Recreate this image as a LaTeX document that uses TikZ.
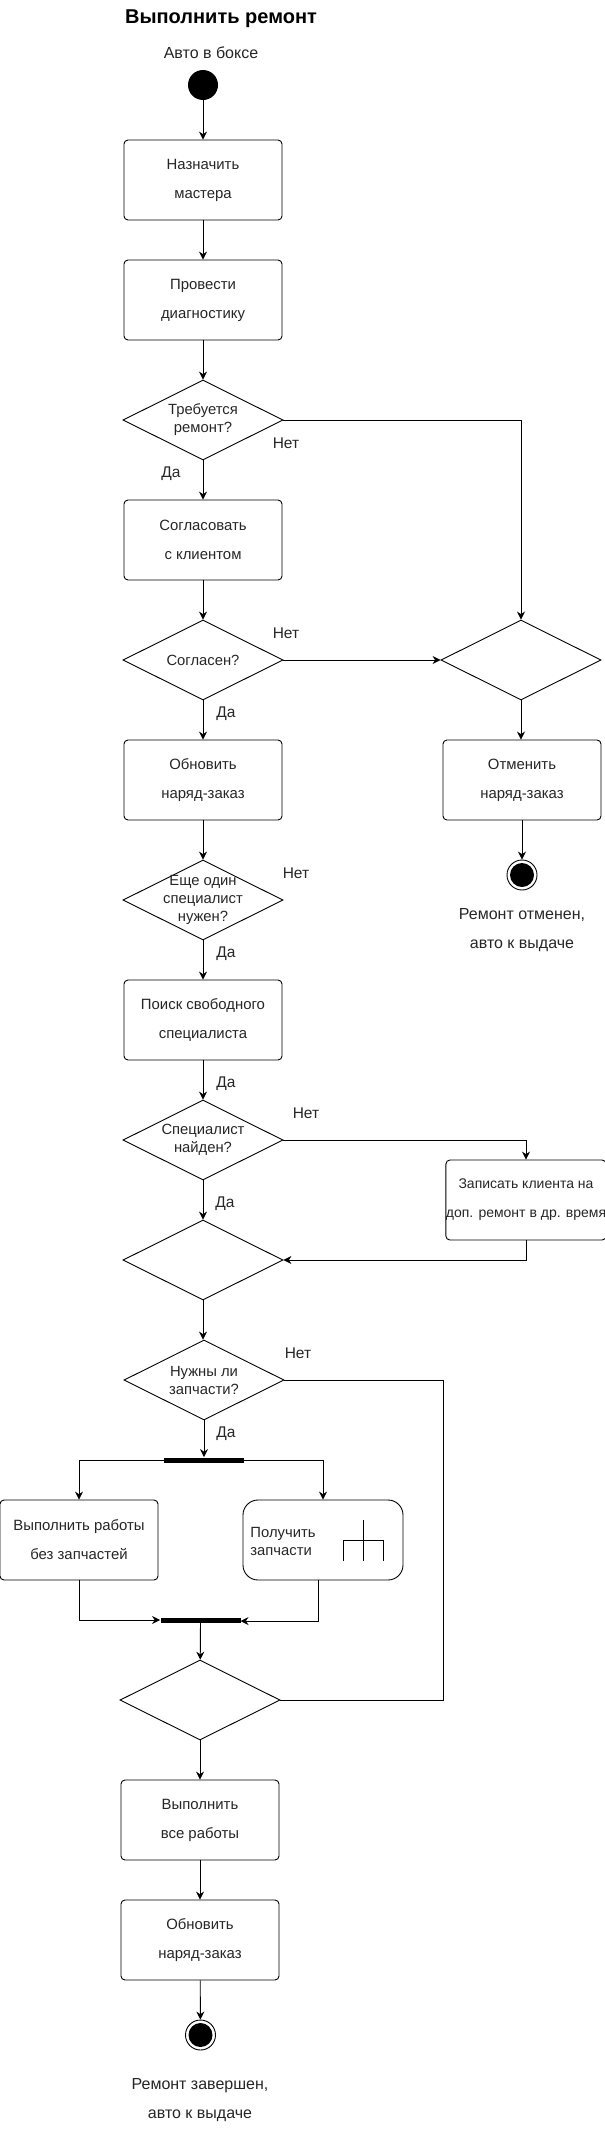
\documentclass[tikz,border=0pt]{standalone}
\usepackage{fontspec}
\setmainfont{Liberation Sans}
\usepackage{xcolor}
\usetikzlibrary{arrows.meta, shapes.geometric}
\definecolor{textColor}{HTML}{262626}
\tikzset{
    activity/.style={draw, rounded corners=4pt, minimum width=158pt, minimum height=80pt, inner sep=0pt, align=center, text=textColor, font=\fontsize{14.9}{29}\selectfont},
    decision/.style={draw, diamond, aspect=2, inner sep=-25pt, minimum width=160pt, minimum height=80pt, align=center, text=textColor, font=\fontsize{14.8}{18}\selectfont},
    caption/.style={inner sep=0pt, align=center, text=textColor, font=\fontsize{16}{29}\selectfont},
    answer/.style={inner sep=0pt, text=textColor, font=\fontsize{15.5}{18}\selectfont},
    bar/.style={fill=black, minimum width=80pt, minimum height=5pt, inner sep=0pt},
    finalring/.style={draw, circle, minimum size=30pt, inner sep=0pt},
    finaldot/.style={fill=black, circle, minimum size=24pt, inner sep=0pt},
    flow/.style={-{Stealth[length=8pt,width=8pt]}},
    every path/.style={line width=0.9pt}
}

\begin{document}
\begin{tikzpicture}[x=1pt, y=-1pt]
    \useasboundingbox (0,0) rectangle (605,2131);

    \node[inner sep=0pt, font=\fontsize{20}{22}\selectfont\bfseries] (title) at (221,18.5) {Выполнить ремонт};
    \node[caption] (startText) at (211,52.5) {Авто в боксе};
    \node[fill=black, circle, minimum size=30pt, inner sep=0pt] (start) at (203,85) {};
    \node[activity] (assign) at (203,180) {Назначить\\мастера};
    \node[activity] (diagnose) at (203,300) {Провести\\диагностику};
    \node[decision] (needRepair) at (203,420) {Требуется\\ремонт?};
    \node[activity] (agree) at (203,540) {Согласовать\\с клиентом};
    \node[decision] (agreed) at (203,660) {Согласен?};
    \node[activity] (updateOrder) at (203,780) {Обновить\\наряд-заказ};
    \node[decision] (needOther) at (203,900) {Еще один\\специалист\\нужен?};
    \node[activity] (search) at (203,1020) {Поиск свободного\\специалиста};
    \node[decision] (found) at (203,1140) {Специалист\\найден?};
    \node[decision] (mergeFound) at (203,1260) {};
    \node[decision] (needParts) at (204,1380) {Нужны ли\\запчасти?};
    \node[bar] (fork) at (204,1460) {};
    \node[activity] (noParts) at (79,1540) {Выполнить работы\\без запчастей};
    \node[activity, rounded corners=15pt, minimum width=160pt] (getParts) at (323,1540) {};
    \node[inner sep=0pt, align=left, text=textColor, font=\fontsize{14.8}{18}\selectfont, anchor=west] (getPartsText) at (250,1541) {Получить\\запчасти};
    \coordinate (iconTop) at (363,1520);
    \coordinate (iconBottom) at (363,1561);
    \coordinate (iconLeft) at (343,1561);
    \coordinate (iconRight) at (383,1561);
    \draw (iconTop) -- (iconBottom);
    \draw (iconLeft) |- (iconRight |- 0,1540) -- (iconRight);
    \node[bar] (join) at (200.5,1620) {};
    \node[decision] (mergeParts) at (200,1700) {};
    \node[activity] (doWork) at (200,1820) {Выполнить\\все работы};
    \node[activity] (closeOrder) at (200,1940) {Обновить\\наряд-заказ};
    \node[finalring] (done) at (200.5,2035) {};
    \node[finaldot] (doneDot) at (done) {};
    \node[caption] (doneText) at (200,2100.5) {Ремонт завершен,\\авто к выдаче};

    \node[decision] (mergeCancel) at (521,660) {};
    \node[activity] (cancel) at (522,780) {Отменить\\наряд-заказ};
    \node[finalring] (cancelled) at (522,875) {};
    \node[finaldot] (cancelledDot) at (cancelled) {};
    \node[caption] (cancelledText) at (522,930) {Ремонт отменен,\\авто к выдаче};
    \node[activity, minimum width=158pt, font=\fontsize{14}{29}\selectfont] (book) at (526,1200) {Записать клиента на\\доп. ремонт в др. время};

    \node[answer] (no1) at (286,443) {Нет};
    \node[answer] (yes1) at (171,474) {Да};
    \node[answer] (no2) at (286,633) {Нет};
    \node[answer] (yes2) at (226,714) {Да};
    \node[answer] (no3) at (296,873) {Нет};
    \node[answer] (yes3) at (226,954) {Да};
    \node[answer] (yes4) at (226,1084) {Да};
    \node[answer] (no4) at (306,1113) {Нет};
    \node[answer] (yes5) at (225,1204) {Да};
    \node[answer] (no5) at (298,1353) {Нет};
    \node[answer] (yes6) at (226,1434) {Да};

    \draw[flow] (start) -- (assign);
    \draw[flow] (assign) -- (diagnose);
    \draw[flow] (diagnose) -- (needRepair);
    \draw[flow] (needRepair) -- (agree);
    \draw[flow] (agree) -- (agreed);
    \draw[flow] (agreed) -- (updateOrder);
    \draw[flow] (updateOrder) -- (needOther);
    \draw[flow] (needOther) -- (search);
    \draw[flow] (search) -- (found);
    \draw[flow] (found) -- (mergeFound);
    \draw[flow] (mergeFound) -- (needParts.north -| mergeFound);
    \draw[flow] (needParts) -- (fork);
    \draw[flow] (fork.west) -| (noParts.north);
    \draw[flow] (fork.east) -| (getParts.north);
    \draw[flow] (noParts.south) |- (join.west);
    \coordinate (partsOut) at (318,1580);
    \coordinate (joinIn) at (240.5,1621);
    \draw[flow] (partsOut) |- (joinIn);
    \draw[flow] (join) -- (mergeParts);
    \draw[flow] (mergeParts) -- (doWork);
    \draw[flow] (doWork) -- (closeOrder);
    \draw[flow] (closeOrder) -- (done);
    \draw[flow] (needRepair.east) -| (mergeCancel.north);
    \draw[flow] (agreed.east) -- (mergeCancel.west);
    \draw[flow] (mergeCancel.south) -- (mergeCancel.south |- cancel.north);
    \draw[flow] (cancel.south) -- (cancelled.north);
    \draw[flow] (found.east) -| (book.north);
    \draw[flow] (book.south) |- (mergeFound.east);
    \coordinate (bypass) at (443,1380);
    \draw (needParts.east) -- (bypass) |- (mergeParts.east);
\end{tikzpicture}
\end{document}
